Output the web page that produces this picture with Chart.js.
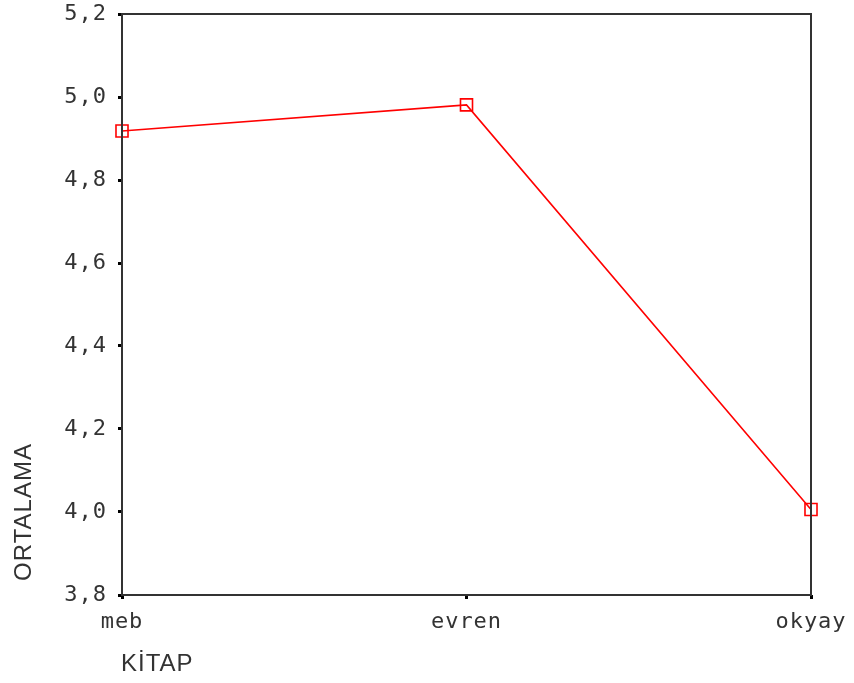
<!DOCTYPE html>
<html>
<head>
<meta charset="utf-8">
<script src="https://cdn.jsdelivr.net/npm/chart.js@4/dist/chart.umd.min.js"></script>
<style>
  html, body { margin: 0; padding: 0; background: #fff; }
  #wrap { width: 854px; height: 683px; }
</style>
</head>
<body>
<div id="wrap"><canvas id="chart"></canvas></div>
<script>
// Data
const categories = ['meb', 'evren', 'okyay'];
const means = [4.918, 4.981, 4.006];
const yMin = 3.8;
const yMax = 5.2;
const yStep = 0.2;
const xTitle = 'KİTAP';
const yTitle = 'ORTALAMA';

// Frame box + axis titles
const framePlugin = {
    id: 'frame',
    beforeDraw(chart) {
        chart.ctx.letterSpacing = '1px';
    },
    afterDraw(chart) {
        const { ctx, chartArea: a } = chart;
        ctx.save();
        ctx.strokeStyle = '#333';
        ctx.lineWidth = 2;
        ctx.strokeRect(a.left, a.top, a.right - a.left, a.bottom - a.top);

        ctx.fillStyle = '#333';
        ctx.font = '24px "Liberation Sans", Arial, sans-serif';
        ctx.letterSpacing = '1px';
        ctx.textBaseline = 'middle';
        ctx.textAlign = 'left';
        ctx.fillText(xTitle, a.left - 1, 664);

        ctx.translate(24, 512);
        ctx.rotate(-Math.PI / 2);
        ctx.textAlign = 'center';
        ctx.fillText(yTitle, 0, 0);
        ctx.restore();
    }
};

const ctx = document.getElementById('chart').getContext('2d');
new Chart(ctx, {
    type: 'line',
    data: {
        labels: categories,
        datasets: [{
            data: means,
            borderColor: '#ff0000',
            borderWidth: 1.6,
            pointStyle: 'rect',
            pointRadius: 8.5,
            pointBorderWidth: 1.6,
            pointBorderColor: '#ff0000',
            pointBackgroundColor: 'rgba(0,0,0,0)',
            tension: 0
        }]
    },
    options: {
        responsive: true,
        maintainAspectRatio: false,
        animation: false,
        events: [],
        layout: { padding: { top: 14, right: 43, left: 0, bottom: 0 } },
        plugins: {
            legend: { display: false },
            tooltip: { enabled: false }
        },
        scales: {
            x: {
                offset: false,
                grid: {
                    drawOnChartArea: false,
                    drawTicks: true,
                    tickLength: 4,
                    tickWidth: 3,
                    color: '#000'
                },
                border: { display: false },
                ticks: {
                    color: '#333',
                    padding: 10,
                    maxRotation: 0,
                    font: { family: '"DejaVu Sans Mono", monospace', size: 22 }
                },
                afterFit(scale) {
                    scale.height = 88;
                    scale.paddingLeft = 0;
                    scale.paddingRight = 0;
                }
            },
            y: {
                min: yMin,
                max: yMax,
                grid: {
                    drawOnChartArea: false,
                    drawTicks: true,
                    tickLength: 4,
                    tickWidth: 3,
                    color: '#000'
                },
                border: { display: false },
                ticks: {
                    stepSize: yStep,
                    color: '#333',
                    padding: 11,
                    font: { family: '"DejaVu Sans Mono", monospace', size: 22 },
                    callback: v => v.toFixed(1).replace('.', ',')
                },
                afterFit(scale) {
                    scale.width = 122;
                    scale.paddingTop = 0;
                    scale.paddingBottom = 0;
                }
            }
        }
    },
    plugins: [framePlugin]
});
</script>
</body>
</html>
